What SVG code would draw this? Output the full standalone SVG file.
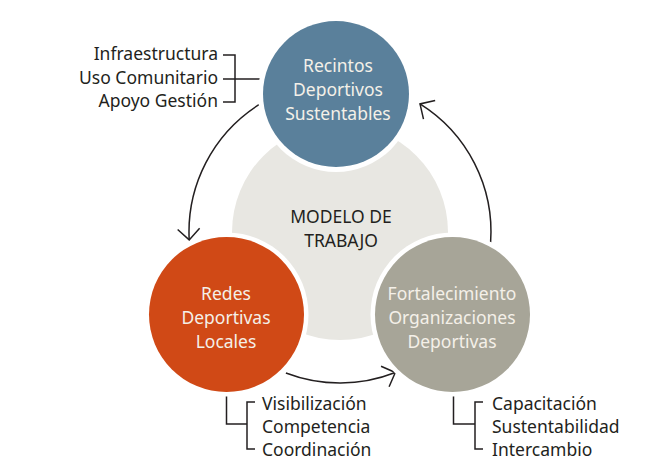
<svg xmlns="http://www.w3.org/2000/svg" width="659" height="461" viewBox="0 0 659 461">
<defs>
<style>
text{font-family:"Noto Sans","Open Sans",sans-serif;font-size:17.5px}
.lab{fill:#231f20}
.in{fill:#f4f0e8;text-anchor:middle}
.ctr{fill:#231f20;text-anchor:middle;font-size:17.5px}
.ln{fill:none;stroke:#231f20;stroke-width:1.5}
.arc{fill:none;stroke:#231f20;stroke-width:1.5;marker-end:url(#ah)}
.gap{fill:#ffffff}
</style>
<marker id="ah" markerUnits="userSpaceOnUse" markerWidth="30" markerHeight="30" refX="0" refY="0" orient="auto" overflow="visible" viewBox="-15 -15 30 30">
<path d="M-11,-11 L0,0 L-11,11" fill="none" stroke="#231f20" stroke-width="1.5"/>
</marker>
</defs>
<rect width="659" height="461" fill="#ffffff"/>
<g id="center">
<circle cx="340" cy="232" r="108" fill="#e8e7e2"/>
<text class="ctr" x="341" y="223">MODELO DE</text>
<text class="ctr" x="341" y="247">TRABAJO</text>
</g>
<g id="connectors">
<path class="arc" d="M258.9,104.7 A151,151 0 0 0 189.2,239.9"/>
<path class="arc" d="M285.9,373 A151,151 0 0 0 395.3,372.5"/>
<path class="arc" d="M490.6,242.5 A151,151 0 0 0 420,103.9"/>
<path class="ln" d="M223,55 H235 V102 H223 M223,79 H264"/>
<path class="ln" d="M226.5,392 V424 H247 M255,402 H247 V449 H255"/>
<path class="ln" d="M453.5,392 V424 H475 M483,402 H475 V449 H483"/>
</g>
<g id="recintos">
<circle class="gap" cx="336" cy="94" r="78"/>
<circle cx="336" cy="94" r="73" fill="#5a809b"/>
<text class="in" x="338" y="72">Recintos</text>
<text class="in" x="338" y="96">Deportivos</text>
<text class="in" x="338" y="120">Sustentables</text>
</g>
<g id="redes">
<circle class="gap" cx="226.5" cy="314.5" r="82"/>
<circle cx="226.5" cy="314.5" r="77.5" fill="#d04916"/>
<text class="in" x="226" y="300">Redes</text>
<text class="in" x="226" y="324">Deportivas</text>
<text class="in" x="226" y="348">Locales</text>
</g>
<g id="fortalecimiento">
<circle class="gap" cx="452.5" cy="314.5" r="82"/>
<circle cx="452.5" cy="314.5" r="77.5" fill="#a7a598"/>
<text class="in" x="452" y="300">Fortalecimiento</text>
<text class="in" x="452" y="324">Organizaciones</text>
<text class="in" x="452" y="348">Deportivas</text>
</g>
<g id="labels-recintos" class="lab" text-anchor="end">
<text x="218" y="60">Infraestructura</text>
<text x="218" y="84">Uso Comunitario</text>
<text x="218" y="107">Apoyo Gestión</text>
</g>
<g id="labels-redes" class="lab">
<text x="262" y="410">Visibilización</text>
<text x="262" y="433">Competencia</text>
<text x="262" y="456">Coordinación</text>
</g>
<g id="labels-fortalecimiento" class="lab">
<text x="492" y="410">Capacitación</text>
<text x="492" y="433">Sustentabilidad</text>
<text x="492" y="456">Intercambio</text>
</g>
</svg>
